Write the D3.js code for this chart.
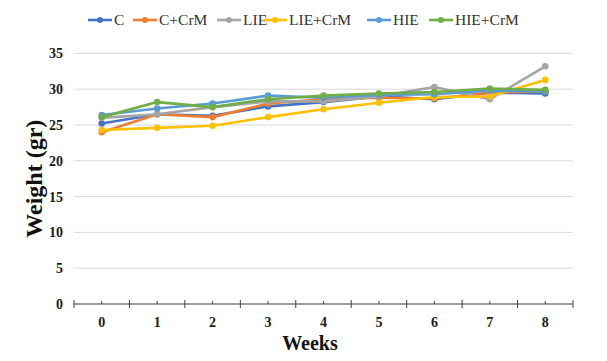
<!DOCTYPE html>
<html>
<head>
<meta charset="utf-8">
<script src="https://cdn.jsdelivr.net/npm/d3@7"></script>
<style>
  body { margin: 0; background: #fff; }
  svg { display: block; font-family: "Liberation Serif", "Times New Roman", serif; }
</style>
</head>
<body>
<svg id="chart" width="607" height="361"></svg>
<script>
const weeks = ['0', '1', '2', '3', '4', '5', '6', '7', '8'];
const seriesNames = ['C', 'C+CrM', 'LIE', 'LIE+CrM', 'HIE', 'HIE+CrM'];
const colors = ['#4472C4', '#ED7D31', '#A5A5A5', '#FFC000', '#5B9BD5', '#70AD47'];
const cData = [25.2, 26.5, 26.3, 27.6, 28.2, 29.0, 28.6, 29.5, 29.4];
const cCrmData = [24.0, 26.5, 26.1, 28.0, 28.6, 28.8, 28.7, 29.5, 29.7];
const lieData = [26.0, 26.5, 27.5, 28.3, 28.3, 29.0, 30.3, 28.6, 33.2];
const lieCrmData = [24.3, 24.6, 24.9, 26.1, 27.2, 28.1, 28.9, 29.0, 31.3];
const hieData = [26.4, 27.3, 28.0, 29.1, 28.8, 29.2, 29.3, 29.8, 29.7];
const hieCrmData = [26.1, 28.2, 27.5, 28.6, 29.1, 29.4, 29.6, 30.1, 29.9];
const yTicks = [0, 5, 10, 15, 20, 25, 30, 35];

const allSeries = [cData, cCrmData, lieData, lieCrmData, hieData, hieCrmData];

(() => {
  const svg = d3.select('#chart');
  const plotLeft = 74, plotRight = 573, plotTop = 53.4, plotBottom = 304;

  const x = d3.scaleBand().domain(weeks).range([plotLeft, plotRight]);
  const y = d3.scaleLinear().domain([0, 35]).range([plotBottom, plotTop]);
  const cx = d => x(d) + x.bandwidth() / 2;

  // gridlines
  svg.append('g')
    .selectAll('line')
    .data(yTicks.filter(d => d > 0))
    .enter()
    .append('line')
    .attr('x1', plotLeft)
    .attr('x2', plotRight)
    .attr('y1', d => y(d))
    .attr('y2', d => y(d))
    .attr('stroke', '#d9d9d9')
    .attr('stroke-width', 1);

  // y tick labels
  svg.append('g')
    .selectAll('text')
    .data(yTicks)
    .enter()
    .append('text')
    .attr('x', 63)
    .attr('y', d => y(d) + 5)
    .attr('text-anchor', 'end')
    .style('font-size', '14px')
    .style('font-weight', 'bold')
    .attr('fill', '#1a1a1a')
    .text(d => d);

  // x axis line + ticks
  const xAxis = svg.append('g').attr('stroke', '#404040');
  xAxis.append('line')
    .attr('x1', plotLeft).attr('x2', plotRight)
    .attr('y1', plotBottom).attr('y2', plotBottom)
    .attr('stroke-width', 1.2);
  const bounds = d3.range(weeks.length + 1).map(i => plotLeft + i * x.bandwidth());
  xAxis.selectAll('.major')
    .data(bounds)
    .enter()
    .append('line')
    .attr('x1', d => d).attr('x2', d => d)
    .attr('y1', plotBottom - 4).attr('y2', plotBottom + 4)
    .attr('stroke-width', 1);
  xAxis.selectAll('.minor')
    .data(weeks)
    .enter()
    .append('line')
    .attr('x1', cx).attr('x2', cx)
    .attr('y1', plotBottom - 3).attr('y2', plotBottom)
    .attr('stroke-width', 1);

  svg.append('g')
    .selectAll('text')
    .data(weeks)
    .enter()
    .append('text')
    .attr('x', cx)
    .attr('y', 327)
    .attr('text-anchor', 'middle')
    .style('font-size', '14px')
    .style('font-weight', 'bold')
    .attr('fill', '#1a1a1a')
    .text(d => d);

  // axis titles
  svg.append('text')
    .attr('x', 310)
    .attr('y', 350)
    .attr('text-anchor', 'middle')
    .style('font-size', '20px')
    .style('font-weight', 'bold')
    .attr('fill', '#111')
    .text('Weeks');

  svg.append('text')
    .attr('transform', 'translate(42,' + y(17.5) + ') rotate(-90)')
    .attr('text-anchor', 'middle')
    .style('font-size', '24px')
    .style('font-weight', 'bold')
    .attr('fill', '#111')
    .text('Weight (gr)');

  // lines
  const line = d3.line()
    .x((d, i) => cx(weeks[i]))
    .y(d => y(d));

  allSeries.forEach((vals, s) => {
    const g = svg.append('g');
    g.append('path')
      .datum(vals)
      .attr('d', line)
      .attr('fill', 'none')
      .attr('stroke', colors[s])
      .attr('stroke-width', 2.6)
      .attr('stroke-linejoin', 'round');
    g.selectAll('circle')
      .data(vals)
      .enter()
      .append('circle')
      .attr('cx', (d, i) => cx(weeks[i]))
      .attr('cy', d => y(d))
      .attr('r', 3.3)
      .attr('fill', colors[s]);
  });

  // legend
  const legendX = [88, 133, 217, 263, 367, 429];
  const legend = svg.selectAll('.legend')
    .data(seriesNames)
    .enter()
    .append('g')
    .attr('class', 'legend')
    .attr('transform', (d, i) => 'translate(' + legendX[i] + ',20)');

  legend.append('line')
    .attr('x1', 0).attr('x2', 24)
    .attr('stroke', (d, i) => colors[i])
    .attr('stroke-width', 2.6);
  legend.append('circle')
    .attr('cx', 12)
    .attr('r', 3)
    .attr('fill', (d, i) => colors[i]);
  legend.append('text')
    .attr('x', 26)
    .attr('y', 5)
    .style('font-size', '15.5px')
    .attr('fill', '#333')
    .text(d => d);
})();
</script>
</body>
</html>
